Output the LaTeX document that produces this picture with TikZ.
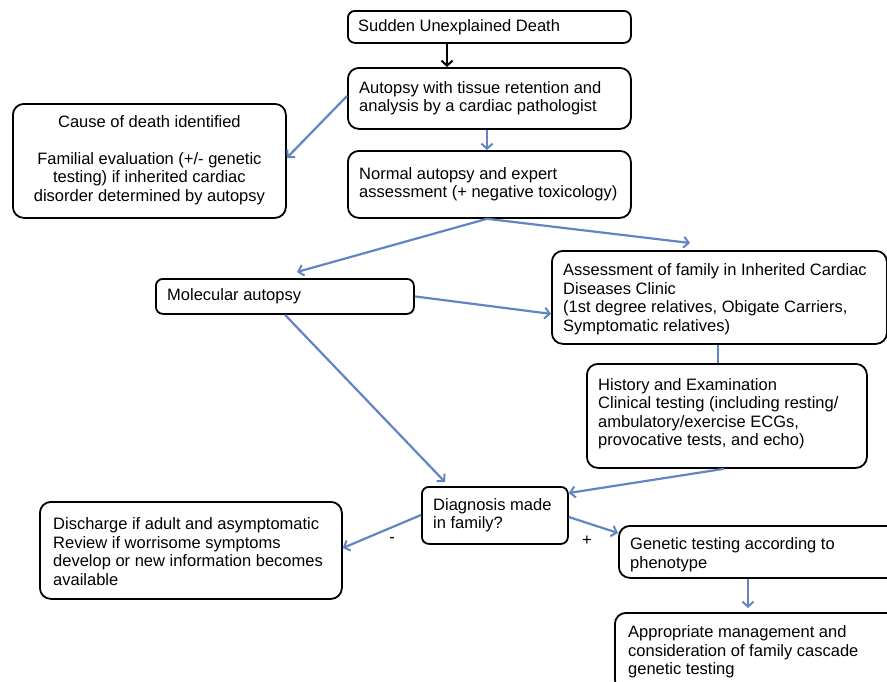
\documentclass[tikz,border=0pt]{standalone}
\usepackage{fontspec}
\setmainfont{Liberation Sans}
\usetikzlibrary{arrows.meta}
\definecolor{arrowblue}{RGB}{98,132,196}
\begin{document}
\begin{tikzpicture}[x=1pt,y=-1pt,
  box/.style={draw=black, line width=1.8pt, rounded corners=11pt, inner sep=0pt, anchor=north west, fill=white},
  sbox/.style={box, rounded corners=7pt},
  txt/.style={inner sep=0pt, anchor=west, align=left, font=\fontsize{16.5}{18.5}\selectfont},
  ctxt/.style={inner sep=0pt, align=center, font=\fontsize{16.5}{18.5}\selectfont},
  blue arrow/.style={draw=arrowblue, line width=2.2pt, -{Straight Barb[length=5pt,width=11pt,line width=2pt]}},
  black arrow/.style={draw=black, line width=2pt, -{Straight Barb[length=5pt,width=11pt,line width=2pt]}},
  blue line/.style={draw=arrowblue, line width=2.2pt},
  sign/.style={inner sep=0pt, font=\fontsize{16.5}{18.5}\selectfont}
]
\useasboundingbox (0,0) rectangle (887,681);
\clip (0,0) rectangle (887,681);

% boxes
\node[sbox, minimum width=283pt, minimum height=32pt] (sud) at (347,10) {};
\node[txt] (sudt) at ([xshift=11pt]sud.west) {Sudden Unexplained Death};

\node[box, minimum width=283pt, minimum height=61pt] (aut) at (347,67) {};
\node[txt] (autt) at ([xshift=12pt]aut.west) {Autopsy with tissue retention and\\analysis by a cardiac pathologist};

\node[box, minimum width=273pt, minimum height=114pt] (cause) at (12,103) {};
\node[ctxt] (causet) at ([yshift=1pt]cause.center) {Cause of death identified\\[18.5pt]Familial evaluation (+/- genetic\\testing) if inherited cardiac\\disorder determined by autopsy};

\node[box, minimum width=283pt, minimum height=67pt] (norm) at (347,150) {};
\node[txt] (normt) at ([xshift=12pt]norm.west) {Normal autopsy and expert\\assessment (+ negative toxicology)};

\node[sbox, minimum width=258pt, minimum height=35pt] (mol) at (155,278) {};
\node[txt] (molt) at ([xshift=12pt]mol.west) {Molecular autopsy};

\node[box, minimum width=335pt, minimum height=93pt] (ass) at (551,250) {};
\node[txt] (asst) at ([xshift=12pt,yshift=-2pt]ass.west) {Assessment of family in Inherited Cardiac\\Diseases Clinic\\(1st degree relatives, Obigate Carriers,\\Symptomatic relatives)};

\node[box, minimum width=280pt, minimum height=104pt] (hist) at (586,363) {};
\node[txt] (histt) at ([xshift=12pt,yshift=2pt]hist.west) {History and Examination\\Clinical testing (including resting/\\ambulatory/exercise ECGs,\\provocative tests, and echo)};

\node[sbox, minimum width=146pt, minimum height=57pt] (diag) at (421,486) {};
\node[txt] (diagt) at ([xshift=12pt]diag.west) {Diagnosis made\\in family?};

\node[box, minimum width=302pt, minimum height=97pt] (disc) at (39,501) {};
\node[txt] (disct) at ([xshift=14pt,yshift=-1pt]disc.west) {Discharge if adult and asymptomatic\\Review if worrisome symptoms\\develop or new information becomes\\available};

\node[box, minimum width=280pt, minimum height=52pt] (gen) at (618,525) {};
\node[txt] (gent) at ([xshift=12pt,yshift=-3pt]gen.west) {Genetic testing according to\\phenotype};

\node[box, minimum width=285pt, minimum height=78pt] (app) at (614,612) {};
\node[txt] (appt) at ([xshift=14pt,yshift=0pt]app.west) {Appropriate management and\\consideration of family cascade\\genetic testing};

% connectors
\draw[black arrow] ([xshift=100pt]sud.south west) -- ([xshift=100pt]aut.north west);
\draw[blue arrow] ([yshift=-29pt]aut.north west) -- ([yshift=3pt]cause.east);
\draw[blue arrow] ([xshift=140pt]aut.south west) -- ([xshift=140pt]norm.north west);
\draw[blue arrow] ([xshift=140pt]norm.south west) -- ([xshift=142pt,yshift=6pt]mol.north west);
\draw[blue arrow] ([xshift=140pt]norm.south west) -- ([xshift=139pt,yshift=7pt]ass.north west);
\draw[blue arrow] (mol.east) -- ([yshift=-16.5pt]ass.west);
\draw[blue arrow] ([xshift=130pt]mol.south west) -- ([xshift=24pt,yshift=4pt]diag.north west);
\draw[blue line] ([xshift=167pt]ass.south west) -- ([xshift=132pt]hist.north west);
\draw[blue arrow] ([xshift=138pt]hist.south west) -- ([yshift=-7pt]diag.north east);
\draw[blue arrow] ([yshift=-29pt]diag.north west) -- ([yshift=-47pt]disc.north east);
\draw[blue arrow] ([yshift=-31pt]diag.north east) -- ([yshift=-8pt]gen.north west);
\draw[blue arrow] ([xshift=130pt]gen.south west) -- ([xshift=134pt,yshift=4pt]app.north west);

% signs
\node[sign] (minus) at (392,540) {-};
\node[sign] (plus) at (587,541) {+};
\end{tikzpicture}
\end{document}
